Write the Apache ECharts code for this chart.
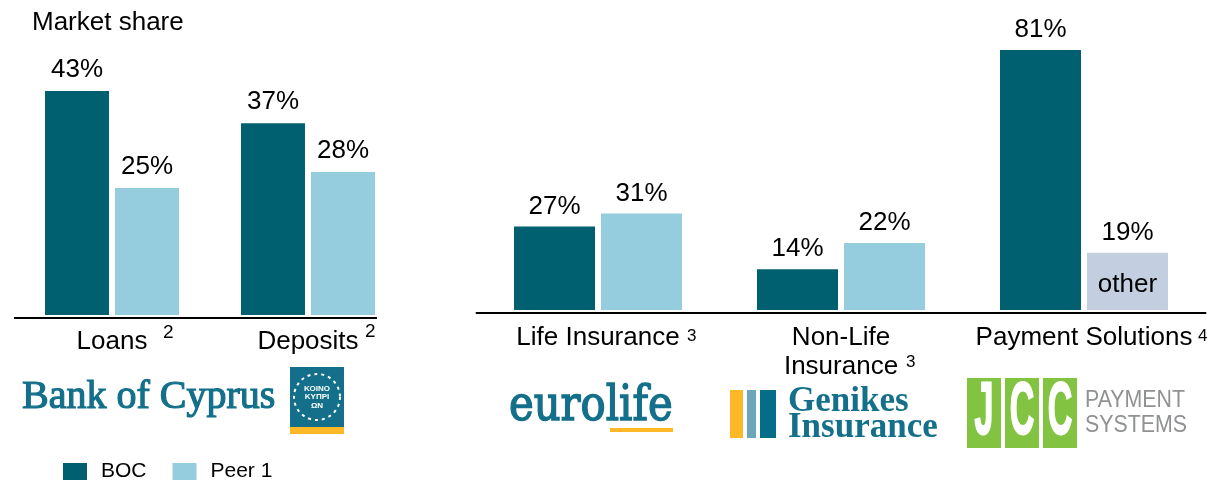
<!DOCTYPE html>
<html>
<head>
<meta charset="utf-8">
<style>
  html, body { margin: 0; padding: 0; background: #fff; }
  #main { width: 1223px; height: 482px; }
</style>
<script src="https://cdn.jsdelivr.net/npm/echarts@6/dist/echarts.min.js"></script>
</head>
<body>
<div id="main"></div>
<script>
const bankCategories = ["Loans", "Deposits"];
const bankBoc = [43, 37];
const bankPeer = [25, 28];
const otherCategories = ["Life Insurance", "Non-Life\nInsurance", "Payment Solutions"];
const otherBoc = [27, 14, 81];
const otherPeer = [31, 22, 19];

const DARK = "#00606F";
const LIGHT = "#95CDDF";
const OTHER = "#C3CEE1";
const LOGO = "#14708A";
const FONT = '"Liberation Sans", Arial, sans-serif';
const SERIF = '"Liberation Serif", serif';
const WIDE_SERIF = '"DejaVu Serif", serif';

function text(str, x, y, font, fill, extra) {
  const opts = extra || {};
  return {
    type: "text",
    x: x,
    y: y,
    z: 10,
    silent: true,
    scaleX: opts.scaleX || 1,
    originX: 0,
    style: {
      text: str,
      font: font,
      fill: fill || "#000",
      stroke: opts.stroke || null,
      lineWidth: opts.stroke ? (opts.strokeWidth || 1) : 0,
      align: opts.align || "left",
      verticalAlign: "middle"
    }
  };
}

function box(x, y, w, h, fill) {
  return { type: "rect", z: 5, silent: true, shape: { x: x, y: y, width: w, height: h }, style: { fill: fill } };
}

const supLeft = "19px " + FONT;
const supRight = "17px " + FONT;
const jccLetter = { align: "center", scaleX: 0.46, stroke: "#fff", strokeWidth: 2 };
const graphics = [
  // 左图的轴线比类目区短，单独画
  { type: "line", silent: true, shape: { x1: 14, y1: 318, x2: 377, y2: 318 }, style: { stroke: "#000", lineWidth: 2 } },
  text("2", 163, 333, supLeft),
  text("2", 365, 332, supLeft),
  text("3", 687, 336, supRight),
  text("3", 906, 362, supRight),
  text("4", 1198, 336, supRight),
  text("other", 1127.5, 285, "26px " + FONT, "#000", { align: "center" }),

  // Bank of Cyprus
  text("Bank of Cyprus", 22, 397, "40px " + SERIF, LOGO, { stroke: LOGO, strokeWidth: 1.2 }),
  box(290, 367, 54, 60, LOGO),
  box(290, 427, 54, 7, "#FDB827"),
  { type: "circle", z: 6, silent: true, shape: { cx: 317, cy: 397, r: 23 }, style: { fill: "none", stroke: "#fff", lineWidth: 2, lineDash: [3, 4] } },
  text("ΚΟΙΝΟ", 317, 389, "bold 8px " + FONT, "#fff", { align: "center" }),
  text("ΚΥΠΡΙ", 317, 397, "bold 8px " + FONT, "#fff", { align: "center" }),
  text("ΩΝ", 317, 406, "bold 8px " + FONT, "#fff", { align: "center" }),

  // eurolife
  text("eurolife", 509, 408, "48px " + WIDE_SERIF, LOGO, { scaleX: 0.87, stroke: LOGO, strokeWidth: 1.5 }),
  box(610, 428, 63, 4, "#FDB827"),

  // Genikes
  box(730, 390, 13, 48, "#FDB827"),
  box(747, 390, 9, 48, "#6BA7B8"),
  box(760, 390, 16, 48, "#046D87"),
  text("Genikes", 788, 402, "bold 35px " + SERIF, LOGO),
  text("Insurance", 788, 428, "bold 35px " + SERIF, LOGO),

  // JCC
  box(967, 378, 34, 70, "#82C341"),
  box(1005, 378, 34, 70, "#82C341"),
  box(1043, 378, 34, 70, "#82C341"),
  text("J", 984, 414, "bold 74px " + FONT, "#fff", jccLetter),
  text("C", 1022, 414, "bold 74px " + FONT, "#fff", jccLetter),
  text("C", 1060, 414, "bold 74px " + FONT, "#fff", jccLetter),
  text("PAYMENT", 1085, 400, "24px " + FONT, "#8F9193", { scaleX: 0.89 }),
  text("SYSTEMS", 1085, 425, "24px " + FONT, "#8F9193", { scaleX: 0.89 })
];

function barLabel(distance) {
  return {
    show: true,
    position: "top",
    distance: distance,
    formatter: "{c}%",
    color: "#000",
    fontSize: 26,
    fontFamily: FONT
  };
}

const option = {
  animation: false,
  backgroundColor: "#fff",
  textStyle: { fontFamily: FONT },
  title: {
    text: "Market share",
    left: 27,
    top: 5,
    textStyle: { color: "#000", fontSize: 26, fontWeight: "normal", fontFamily: FONT }
  },
  legend: {
    left: 58,
    top: 456,
    itemWidth: 24,
    itemHeight: 17,
    itemGap: 26,
    data: ["BOC", "Peer 1"],
    icon: "rect",
    textStyle: { color: "#000", fontSize: 21, fontFamily: FONT, padding: [0, 0, 0, 9] }
  },
  grid: [
    { left: 14, width: 392, top: 45, height: 270 },
    { left: 476.5, width: 729, top: 15.7, height: 294.3 }
  ],
  xAxis: [
    {
      type: "category",
      gridIndex: 0,
      data: bankCategories,
      axisLine: { show: false },
      axisTick: { show: false },
      axisLabel: { interval: 0, color: "#000", fontSize: 26, fontFamily: FONT, margin: 14 }
    },
    {
      type: "category",
      gridIndex: 1,
      data: otherCategories,
      offset: 3,
      axisLine: { lineStyle: { color: "#000", width: 2 } },
      axisTick: { show: false },
      axisLabel: { interval: 0, color: "#000", fontSize: 26, fontFamily: FONT, margin: 10, lineHeight: 29 }
    }
  ],
  yAxis: [
    { type: "value", gridIndex: 0, min: 1.5, max: 51.5, show: false },
    { type: "value", gridIndex: 1, min: 1.5, max: 91.5, show: false }
  ],
  series: [
    {
      name: "BOC",
      type: "bar",
      xAxisIndex: 0,
      yAxisIndex: 0,
      barWidth: 64,
      barGap: "9.4%",
      itemStyle: { color: DARK },
      label: barLabel(8),
      data: bankBoc
    },
    {
      name: "Peer 1",
      type: "bar",
      xAxisIndex: 0,
      yAxisIndex: 0,
      barWidth: 64,
      barGap: "9.4%",
      itemStyle: { color: LIGHT },
      label: barLabel(8),
      data: bankPeer
    },
    {
      name: "BOC",
      type: "bar",
      xAxisIndex: 1,
      yAxisIndex: 1,
      barWidth: 81,
      barGap: "7.4%",
      itemStyle: { color: DARK },
      label: barLabel(7),
      data: otherBoc
    },
    {
      name: "Peer 1",
      type: "bar",
      xAxisIndex: 1,
      yAxisIndex: 1,
      barWidth: 81,
      barGap: "7.4%",
      itemStyle: {
        // Payment Solutions 的第二根柱是 other
        color: params => (params.dataIndex === 2 ? OTHER : LIGHT)
      },
      label: barLabel(7),
      data: otherPeer
    }
  ],
  graphic: { elements: graphics }
};

const myChart = echarts.init(document.getElementById("main"));
myChart.setOption(option);
</script>
</body>
</html>
